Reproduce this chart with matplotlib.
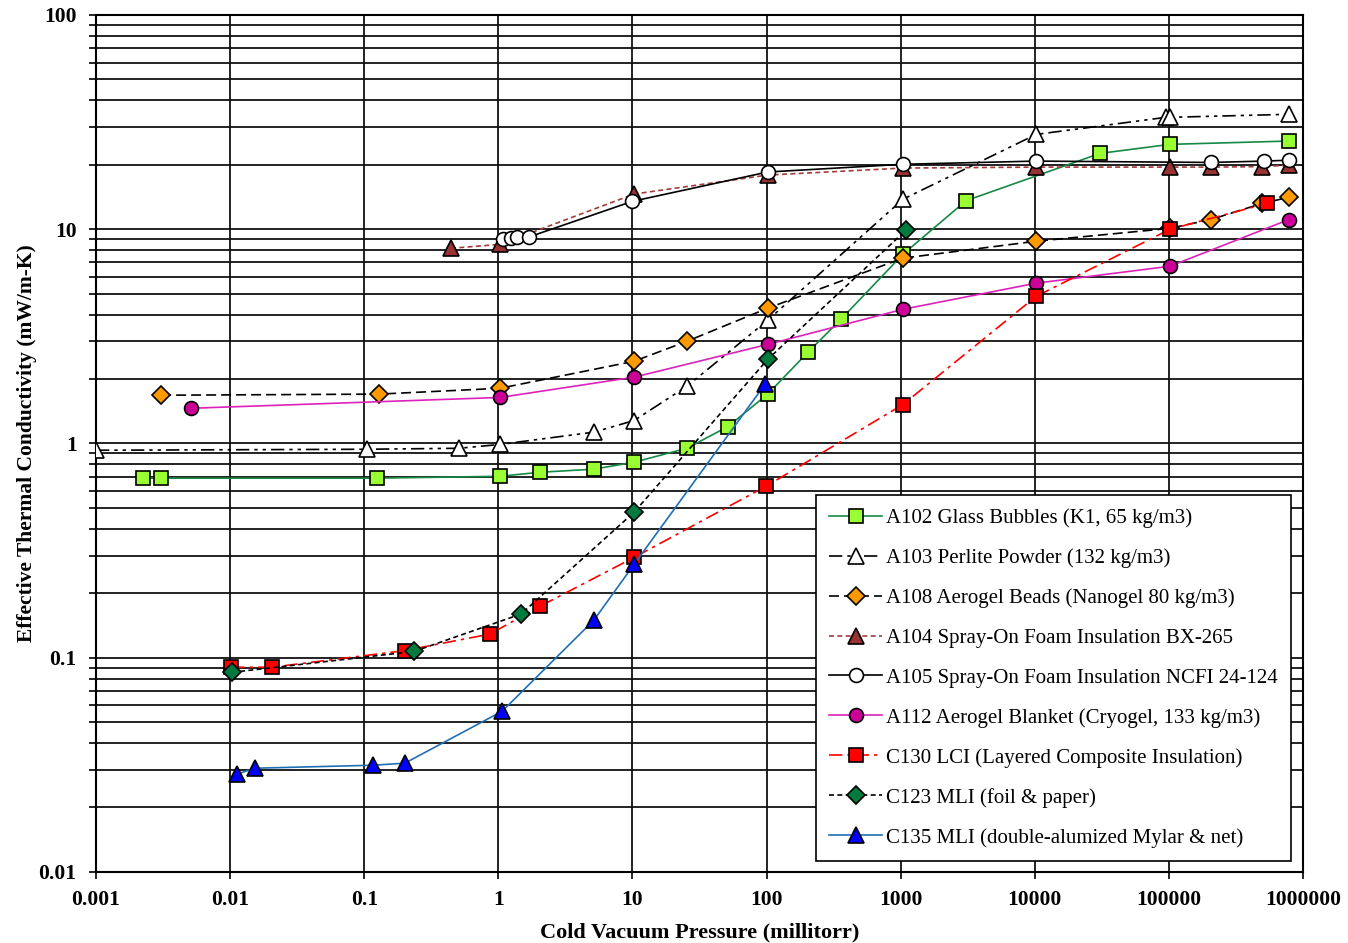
import numpy as np
import matplotlib
matplotlib.use('Agg')
import matplotlib.pyplot as plt
from matplotlib.ticker import FixedLocator, FuncFormatter, NullFormatter

plt.rcParams['font.family'] = ['Liberation Serif', 'DejaVu Serif']

# --- data (pressure in millitorr, k in mW/m-K) ---
a102_p = [0.00224, 0.00306, 0.124, 1.03, 2.05, 5.17, 10.3, 25.5, 51.6, 102, 204, 359, 1040, 3080, 30700, 102000, 787000]
a102_k = [0.689, 0.689, 0.689, 0.703, 0.734, 0.759, 0.818, 0.95, 1.20, 1.70, 2.67, 3.80, 7.64, 13.6, 22.6, 24.9, 25.8]

a103_p = [0.001, 0.105, 0.51, 1.03, 5.17, 10.3, 25.5, 102, 1040, 10230, 95300, 102000, 787000]
a103_k = [0.93, 0.94, 0.95, 0.99, 1.13, 1.28, 1.85, 3.76, 13.8, 27.7, 33.3, 33.3, 34.4]

a108_p = [0.00306, 0.129, 1.03, 10.3, 25.5, 102, 1040, 10230, 102000, 206000, 496000, 787000]
a108_k = [1.68, 1.70, 1.81, 2.42, 3.0, 4.28, 7.33, 8.79, 10.1, 11.1, 13.2, 14.1]

a104_p = [0.444, 1.03, 10.3, 102, 1040, 10230, 102000, 206000, 496000, 787000]
a104_k = [8.15, 8.5, 14.6, 17.9, 19.3, 19.5, 19.5, 19.5, 19.6, 19.9]

a105_p = [1.08, 1.25, 1.38, 1.69, 10.0, 102, 1040, 10230, 206000, 513000, 787000]
a105_k = [8.98, 9.1, 9.2, 9.2, 13.5, 18.5, 20.1, 20.8, 20.5, 20.8, 21.0]

a112_p = [0.0051, 1.03, 10.3, 102, 1040, 10230, 102000, 787000]
a112_k = [1.46, 1.64, 2.04, 2.90, 4.23, 5.6, 6.72, 11.1]

c130_p = [0.0102, 0.0205, 0.201, 0.867, 2.05, 10.3, 99, 1040, 10230, 102000, 540000]
c130_k = [0.0903, 0.0903, 0.108, 0.129, 0.174, 0.294, 0.631, 1.52, 4.86, 10.0, 13.2]

c123_p = [0.0103, 0.235, 1.48, 10.3, 102, 1097]
c123_k = [0.0855, 0.107, 0.160, 0.478, 2.47, 9.9]

c135_p = [0.0112, 0.0153, 0.116, 0.201, 1.07, 5.17, 10.3, 97.5]
c135_k = [0.0286, 0.0305, 0.0315, 0.0322, 0.0563, 0.150, 0.273, 1.89]

labels = ['A102 Glass Bubbles (K1, 65 kg/m3)',
          'A103 Perlite Powder (132 kg/m3)',
          'A108 Aerogel Beads (Nanogel 80 kg/m3)',
          'A104 Spray-On Foam Insulation BX-265',
          'A105 Spray-On Foam Insulation NCFI 24-124',
          'A112 Aerogel Blanket (Cryogel, 133 kg/m3)',
          'C130 LCI (Layered Composite Insulation)',
          'C123 MLI (foil & paper)',
          'C135 MLI (double-alumized Mylar & net)']

x_ticks = [0.001, 0.01, 0.1, 1, 10, 100, 1000, 10000, 100000, 1000000]
y_ticks = [0.01, 0.1, 1, 10, 100]

fig = plt.figure(figsize=(13.48, 9.43), dpi=100)
ax = fig.add_axes([0.0712, 0.0753, 0.8954, 0.9088])

series = [
    (a102_p, a102_k, dict(color='#158a45', ls='-', marker='s', mfc='#99ff33', ms=10)),
    (a103_p, a103_k, dict(color='black', ls=(0, (8, 3, 2, 3, 2, 3)), marker='^', mfc='white', ms=12)),
    (a108_p, a108_k, dict(color='black', ls=(0, (6, 3)), marker='D', mfc='#ff9900', ms=9)),
    (a104_p, a104_k, dict(color='#a33b3b', ls=(0, (3, 2)), marker='^', mfc='#993333', ms=12)),
    (a105_p, a105_k, dict(color='black', ls='-', marker='o', mfc='white', ms=10)),
    (a112_p, a112_k, dict(color='#dd22bb', ls='-', marker='o', mfc='#cc0099', ms=10)),
    (c130_p, c130_k, dict(color='#ff0000', ls=(0, (8, 3, 2, 3)), marker='s', mfc='#ff0000', ms=10)),
    (c123_p, c123_k, dict(color='black', ls=(0, (3, 2)), marker='D', mfc='#007a3d', ms=9)),
    (c135_p, c135_k, dict(color='#1f6fb4', ls='-', marker='^', mfc='#0000ff', ms=11)),
]

for (p, k, st), lab in zip(series, labels):
    ax.plot(p, k, linestyle=st['ls'], color=st['color'], lw=1.2,
            marker=st['marker'], mfc=st['mfc'], mec='black', mew=1.2,
            ms=st['ms'], label=lab, zorder=3)

ax.set_xscale('log')
ax.set_yscale('log')
ax.set_xlim(0.001, 1000000)
ax.set_ylim(0.01, 100)

ax.xaxis.set_major_locator(FixedLocator(x_ticks))
ax.xaxis.set_minor_locator(FixedLocator([]))
ax.yaxis.set_major_locator(FixedLocator(y_ticks))
y_minor = [m * 10.0 ** e for e in range(-2, 2) for m in range(2, 10)]
ax.yaxis.set_minor_locator(FixedLocator(y_minor))
ax.yaxis.set_minor_formatter(NullFormatter())

fmt = FuncFormatter(lambda v, pos: ('%f' % v).rstrip('0').rstrip('.'))
ax.xaxis.set_major_formatter(fmt)
ax.yaxis.set_major_formatter(fmt)

ax.grid(True, which='major', color='#111111', lw=1.3, zorder=1)
ax.grid(True, which='minor', axis='y', color='#111111', lw=1.3, zorder=1)
ax.set_axisbelow(True)
for s in ax.spines.values():
    s.set_linewidth(1.5)

ax.tick_params(which='both', direction='out', length=5, width=1.2)
ax.tick_params(axis='x', pad=8)
ax.tick_params(axis='y', pad=9)
for t in ax.get_xticklabels() + ax.get_yticklabels():
    t.set_fontweight('bold')
    t.set_fontsize(15.5)

ax.set_xlabel('Cold Vacuum Pressure (millitorr)', fontsize=16, fontweight='bold', labelpad=9)
ax.set_ylabel('Effective Thermal Conductivity (mW/m-K)', fontsize=15.5, fontweight='bold', labelpad=1)

leg = ax.legend(loc='upper left', bbox_to_anchor=(0.5965, 0.44), borderaxespad=0,
                fontsize=15, frameon=True, fancybox=False, framealpha=1,
                edgecolor='black', handlelength=2.5, handletextpad=0.2,
                labelspacing=0.97, borderpad=0.65)
leg.get_frame().set_linewidth(1.2)

fig.savefig('out.png', dpi=100)
